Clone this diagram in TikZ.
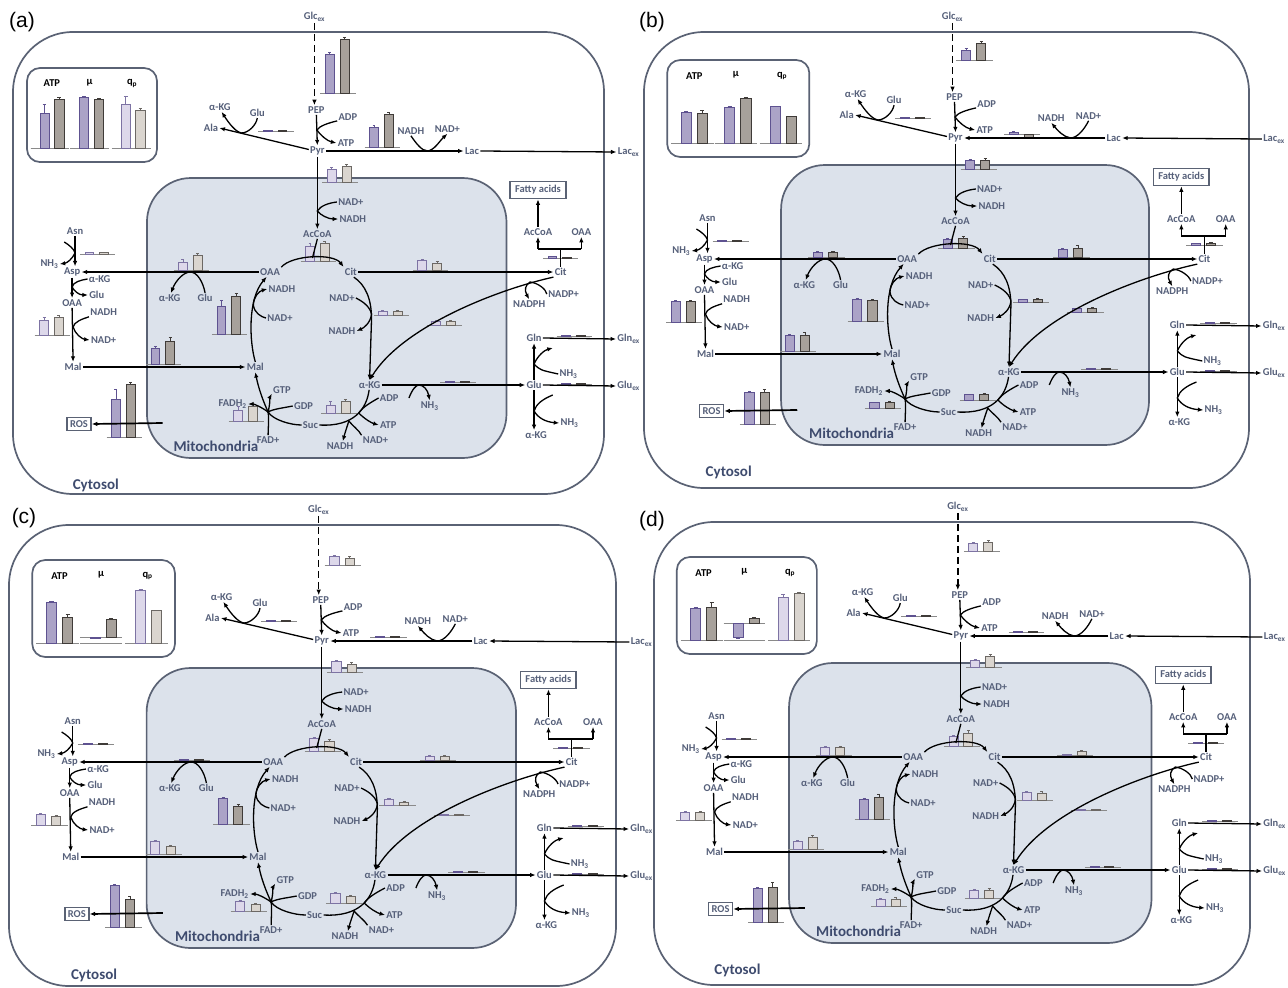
\documentclass[tikz,border=0pt]{standalone}
\usepackage{fontspec}
\setmainfont{Carlito}
\newfontfamily\arialf{Liberation Sans}
\usetikzlibrary{arrows.meta}
\definecolor{txt}{HTML}{56607A}
\definecolor{boxc}{HTML}{5A6274}
\definecolor{mitof}{HTML}{DCE2EB}
\definecolor{labc}{HTML}{3E4B6E}
\definecolor{pdF}{HTML}{ABA3C7}
\definecolor{pdD}{HTML}{5E5290}
\definecolor{gdF}{HTML}{A7A19B}
\definecolor{gdD}{HTML}{3F3B38}
\definecolor{plF}{HTML}{DDD8EA}
\definecolor{plD}{HTML}{7D73A3}
\definecolor{glF}{HTML}{DAD5CF}
\definecolor{glD}{HTML}{6C6864}
\definecolor{basec}{HTML}{8A8A8A}
\newif\ifpanelA
\tikzset{
 lbl/.style={font=\fontsize{10.5}{12}\selectfont\bfseries, text=txt, inner sep=1.2pt},
 lblk/.style={font=\fontsize{10.5}{12}\selectfont\bfseries, text=black, inner sep=1pt},
 bigl/.style={font=\fontsize{15}{17}\selectfont\bfseries, text=labc, inner sep=1pt},
 panlab/.style={font=\arialf\fontsize{21}{24}\selectfont, text=black, inner sep=0pt},
 arr/.style={draw=black, line width=1.3pt, -{Latex[length=5.5pt,width=4.5pt]}},
 ln/.style={draw=black, line width=1.3pt},
 dsh/.style={draw=black, line width=1.4pt, dash pattern=on 7pt off 4pt, -{Latex[length=5.5pt,width=4.5pt]}},
 outerbox/.style={draw=boxc, line width=1.7pt, rounded corners=60pt},
 mitobox/.style={draw=boxc, fill=mitof, line width=1.7pt, rounded corners=44pt},
 insetbox/.style={draw=boxc, line width=1.7pt, rounded corners=13pt},
 framed/.style={lbl, draw=boxc, line width=1.7pt, inner xsep=5pt, inner ysep=4pt},
 framedr/.style={lbl, draw=boxc, line width=1.7pt, inner xsep=3pt, inner ysep=3pt},
 basel/.style={draw=basec, line width=0.9pt},
 pbd/.style={fill=pdF, draw=pdD, line width=0.7pt}, gbd/.style={fill=gdF, draw=gdD, line width=0.7pt},
 pbl/.style={fill=plF, draw=plD, line width=0.7pt}, gbl/.style={fill=glF, draw=glD, line width=0.7pt},
 ped/.style={draw=pdD, line width=0.5pt}, ged/.style={draw=gdD, line width=0.5pt},
 pel/.style={draw=plD, line width=0.5pt}, gel/.style={draw=glD, line width=0.5pt},
 insT/.style={}
}
% bar pair: x, y(baseline), h1, h2, e1, e2, style (d/l)
\newcommand\BPair[7]{%
 \draw[basel] (#1,#2) -- ({#1+36},#2);
 \filldraw[pb#7] ({#1+5},#2) rectangle ({#1+14},{#2-(#3)});
 \filldraw[gb#7] ({#1+20},#2) rectangle ({#1+29},{#2-(#4)});
 \draw[pe#7] ({#1+9.5},{#2-(#3)}) -- ++(0,{-(#5)}) ++(-1.5,0) -- ++(3,0);
 \draw[ge#7] ({#1+24.5},{#2-(#4)}) -- ++(0,{-(#6)}) ++(-1.5,0) -- ++(3,0);
}
\newcommand\BarAt[6]{\edef\tmpos{\csname P#1\endcsname}\expandafter\BPair\tmpos{#2}{#3}{#4}{#5}{#6}}
% inset group: center, raise, h1, h2, e1, e2, style
\newcommand\InB[7]{%
 \draw[basel] ({#1-21},117) -- ({#1+21},117);
 \draw[basel] ({#1-21},{117-(#2)}) -- ({#1+21},{117-(#2)});
 \filldraw[pb#7] ({#1-11},{117-(#2)}) rectangle ({#1-1},{117-(#2)-(#3)});
 \filldraw[gb#7] ({#1+5},{117-(#2)}) rectangle ({#1+15},{117-(#2)-(#4)});
 \draw[pe#7] ({#1-6},{117-(#2)-(#3)}) -- ++(0,{-(#5)}) ++(-2,0) -- ++(4,0);
 \draw[ge#7] ({#1+10},{117-(#2)-(#4)}) -- ++(0,{-(#6)}) ++(-2,0) -- ++(4,0);
}
\def\Pala{{249}{94}}
\def\Plac{{357}{110}}
\def\Pmemb{{314}{145}}
\def\Pacc{{292}{224}}
\def\Pasn{{68}{217}}
\def\Poaaasp{{163}{233}}
\def\Pmaloaa{{202}{297}}
\def\Pcitcit{{406}{233}}
\def\Pcitakg{{366}{278}}
\def\Plong{{420}{288}}
\def\Pbrk{{538}{221}}
\def\Pcam{{22}{298}}
\def\Pmalmal{{135}{327}}
\def\Pfadh{{219}{384}}
\def\Psuc{{313}{376}}
\def\Pakg{{434}{345}}
\def\Pgln{{552}{299}}
\def\Pglu{{552}{347}}
\def\Pros{{95}{400}}
\newcommand\panelbg{%
 \draw[mitobox] (136,141) rectangle (501,421);
 \node[bigl] (mitol) at (206,409) {Mitochondria};
 \node[bigl] (cytol) at (84,448) {Cytosol};
 \begin{scope}[insT]
  \draw[insetbox] (23,34) rectangle (164,131);
  \node[lblk] (iatp) at (50,50) {ATP};
  \node[lblk] (imu) at (91,49) {μ};
  \node[lblk] (iqp) at (137,50) {q\textsubscript{p}};
 \end{scope}
}
\newcommand\panelfg{%
 \node[lbl] (glcex) at (306,{-15-(\pdy)}) {Glc\textsubscript{ex}};
 \node[lbl] (pep) at (308,73) {PEP};
 \node[lbl] (pyr) at (309,114) {Pyr};
 \node[lbl] (adp) at (340,80) {ADP};
 \node[lbl] (atp) at (338,106) {ATP};
 \node[lbl] (akga) at (210,70) {α-KG};
 \node[lbl] (glua) at (248,76) {Glu};
 \node[lbl] (ala) at (201,91) {Ala};
 \node[lbl] (lac) at (466,114) {Lac};
 \node[lbl] (lacex) at (625,115) {Lac\textsubscript{ex}};
 \node[lbl] (nadhl) at (404,94) {NADH};
 \node[lbl] (nadl) at (441,92) {NAD+};
 \node[lbl] (nadm) at (343,165) {NAD+};
 \node[lbl] (nadhm) at (345,182) {NADH};
 \node[lbl] (acoa) at (309,197) {AcCoA};
 \node[lbl] (oaa) at (261,235) {OAA};
 \node[lbl] (cit) at (343,235) {Cit};
 \node[lbl] (citc) at (556,235) {Cit};
 \node[framed] (fa) at (533,153) {Fatty acids};
 \node[lbl] (acoac) at (533,195) {AcCoA};
 \node[lbl] (oaac) at (577,195) {OAA};
 \node[lbl] (asn) at (63,194) {Asn};
 \node[lbl] (asp) at (60,235) {Asp};
 \node[lbl] (nh3a) at (37,227) {NH\textsubscript{3}};
 \node[lbl] (akgc2) at (88,242) {α-KG};
 \node[lbl] (gluc2) at (85,258) {Glu};
 \node[lbl] (oaa2) at (60,266) {OAA};
 \node[lbl] (nadhd) at (92,275) {NADH};
 \node[lbl] (nadd) at (92,303) {NAD+};
 \node[lbl] (malc) at (61,330) {Mal};
 \node[lbl] (malm) at (246,330) {Mal};
 \node[lbl] (akgb) at (159,261) {α-KG};
 \node[lbl] (glub) at (195,261) {Glu};
 \node[lbl] (nadhb) at (273,252) {NADH};
 \node[lbl] (nadb) at (271,281) {NAD+};
 \node[lbl] (nadc) at (334,261) {NAD+};
 \node[lbl] (nadhc) at (334,294) {NADH};
 \node[lbl] (nadph) at (524,267) {NADPH};
 \node[lbl] (nadpp) at (559,257) {NADP+};
 \node[lbl] (akgm) at (362,348) {α-KG};
 \node[lbl] (nh3b) at (423,369) {NH\textsubscript{3}};
 \node[lbl] (gluc) at (529,348) {Glu};
 \node[lbl] (gluex) at (625,349) {Glu\textsubscript{ex}};
 \node[lbl] (gln) at (529,301) {Gln};
 \node[lbl] (glnex) at (625,302) {Gln\textsubscript{ex}};
 \node[lbl] (nh3c) at (564,337) {NH\textsubscript{3}};
 \node[lbl] (nh3d) at (565,386) {NH\textsubscript{3}};
 \node[lbl] (akgc) at (531,398) {α-KG};
 \node[lbl] (adpm) at (382,361) {ADP};
 \node[lbl] (atpm) at (381,388) {ATP};
 \node[lbl] (nadm2) at (368,403) {NAD+};
 \node[lbl] (nadhm2) at (332,409) {NADH};
 \node[lbl] (suc) at (302,388) {Suc};
 \node[lbl] (gtp) at (273,353) {GTP};
 \node[lbl] (gdp) at (295,369) {GDP};
 \node[lbl] (fadh) at (223,367) {FADH\textsubscript{2}};
 \node[lbl] (fad) at (259,403) {FAD+};
 \node[framedr] (ros) at (67,387) {ROS};
 % glycolysis
 \draw[dsh] (glcex.south) -- (glcex.south |- pep.north);
 \draw[arr] (pep.south) -- (pyr.north);
 \coordinate (jadp) at (308.5,93);
 \draw[arr] (adp.200) .. controls (320,86) and (311,89) .. (jadp) .. controls (312,98) and (319,104) .. (atp.west);
 \draw[arr] (pyr.170) -- (ala.east);
 \coordinate (jala) at (232,96);
 \draw[arr] (glua.south) .. controls (247,88) and (239,96) .. (jala) .. controls (226,95) and (219,86) .. (akga.290);
 \ifpanelA
  \draw[arr] (pyr.east) -- (lac.west);
  \draw[arr] (lac.east) -- (lacex.west);
  \coordinate (jlac) at (421,114);
  \draw[arr] (nadhl.south) .. controls (409,106) and (415,114) .. (jlac) .. controls (428,113) and (433,104) .. (nadl.south);
 \else
  \draw[arr] (lacex.west) -- (lac.east);
  \draw[arr] (lac.west) -- (pyr.east);
  \coordinate (jlac) at (423,114);
  \draw[arr] (nadl.south) .. controls (437,105) and (430,114) .. (jlac) .. controls (416,113) and (410,106) .. (nadhl.south);
 \fi
 \draw[arr] (pyr.south) -- (acoa.north);
 \coordinate (jpd) at (309,174);
 \draw[arr] (nadm.west) .. controls (320,166) and (312,169) .. (jpd) .. controls (312,178) and (320,182) .. (nadhm.west);
 % TCA
 \draw[arr] (oaa.north east) .. controls (283,218) and (325,216) .. (cit.north west);
 \coordinate (jac) at (304,221);
 \draw[ln] (acoa.south) -- (jac);
 \draw[arr] (cit.east) -- (citc.west);
 \draw[arr] (oaa.west) -- (asp.east);
 \coordinate (jog) at (180,235);
 \draw[arr] (glub.north) .. controls (193,245) and (187,235) .. (jog) .. controls (173,235) and (165,244) .. (akgb.75);
 \draw[arr] (malm.north) .. controls (240,305) and (238,262) .. (oaa.235);
 \coordinate (jmo) at (244,268);
 \draw[arr] (nadb.west) .. controls (252,280) and (245,276) .. (jmo) .. controls (244,260) and (250,254) .. (nadhb.west);
 \draw[arr] (cit.300) .. controls (358,248) and (364,262) .. (364,282) -- (akgm.north);
 \coordinate (jca) at (364,277);
 \draw[arr] (nadc.east) .. controls (352,263) and (362,268) .. (jca) .. controls (363,286) and (356,291) .. (nadhc.east);
 \draw[arr] (citc.south west) .. controls (490,253) and (395,290) .. (akgm.north);
 \coordinate (jnp) at (525,245);
 \draw[arr] (nadpp.west) .. controls (541,252) and (533,246) .. (jnp) .. controls (520,248) and (519,253) .. (nadph.north);
 \coordinate (brc) at (556,212);
 \draw[ln] (citc.north) -- (brc);
 \draw[ln] (acoac.south |- brc) -- (oaac.south |- brc);
 \draw[arr] (acoac.south |- brc) -- (acoac.south);
 \draw[arr] (oaac.south |- brc) -- (oaac.south);
 \draw[arr] (acoac.north) -- (acoac.north |- fa.south);
 % cytosolic aspartate/malate
 \draw[arr] (asn.south) -- (asn.south |- asp.north);
 \coordinate (sas) at (52,205);
 \coordinate (jas) at (63,216);
 \draw[arr] (sas) .. controls (57,208) and (62,212) .. (jas) .. controls (60,222) and (55,226) .. (nh3a.east);
 \draw[arr] (asp.south) -- (oaa2.north);
 \coordinate (jag) at (60,250);
 \draw[arr] (akgc2.west) .. controls (69,243) and (61,245) .. (jag) .. controls (62,254) and (67,258) .. (gluc2.west);
 \draw[arr] (oaa2.south) -- (malc.north);
 \coordinate (jnd) at (61,290);
 \draw[arr] (nadhd.south west) .. controls (70,282) and (62,285) .. (jnd) .. controls (63,297) and (70,302) .. (nadd.west);
 \draw[arr] (malc.east) -- (malm.west);
 % aKG -> Suc -> Mal
 \draw[ln] (akgm.265) .. controls (359,372) and (346,390) .. (suc.east);
 \coordinate (jad) at (351,376);
 \draw[arr] (adpm.west) .. controls (364,365) and (355,370) .. (jad) .. controls (357,382) and (364,386) .. (atpm.west);
 \coordinate (jnn) at (341,384);
 \draw[arr] (nadm2.north west) .. controls (352,394) and (344,388) .. (jnn) .. controls (339,390) and (337,396) .. (nadhm2.60);
 \coordinate (js) at (259,375);
 \draw[arr] (suc.west) .. controls (282,388) and (264,383) .. (js) .. controls (253,362) and (249,350) .. (malm.south);
 \draw[arr] (gdp.west) .. controls (274,371) and (264,372) .. (js) .. controls (261,367) and (261,360) .. (gtp.200);
 \draw[arr] (fad.north) .. controls (259,392) and (260,382) .. (js) .. controls (252,370) and (245,367) .. (fadh.east);
 % glutamine / glutamate
 \draw[arr] (akgm.east) -- (gluc.west);
 \coordinate (snh) at (402,361);
 \coordinate (jnh) at (412,348);
 \draw[arr] (snh) .. controls (405,353) and (409,348) .. (jnh) .. controls (417,348) and (421,353) .. (nh3b.north);
 \draw[arr] (gluc.east) -- (gluex.west);
 \draw[arr] (gln.east) -- (glnex.west);
 \draw[arr] (gluc.north) -- (gln.south);
 \coordinate (jgl) at (529,327);
 \coordinate (egl) at (548,311);
 \draw[arr] (jgl) .. controls (533,318) and (540,313) .. (egl);
 \draw[ln] (jgl) .. controls (535,333) .. (nh3c.west);
 \draw[arr] (gluc.south) -- (gluc.south |- akgc.north);
 \coordinate (sgk) at (548,358);
 \coordinate (jgk) at (529,374);
 \draw[arr] (sgk) .. controls (538,362) and (531,367) .. (jgk) .. controls (533,381) and (541,385) .. (nh3d.west);
 \coordinate (sros) at (152,386);
 \draw[arr, line width=1.7pt] (sros) -- (ros.east);
}
\begin{document}
\begin{tikzpicture}[x=1pt,y=-1pt]
\useasboundingbox (0,0) rectangle (1288,988);
\fill[white] (0,0) rectangle (1288,988);
% outer cell boxes and panel letters
\draw[outerbox] (13,32) rectangle (604,494);
\draw[outerbox] (644,32) rectangle (1249,488);
\draw[outerbox] (9,525) rectangle (616,986);
\draw[outerbox] (654,522) rectangle (1250,985);
\node[panlab] (labA) at (22,22) {(a)};
\node[panlab] (labB) at (652,22) {(b)};
\node[panlab] (labC) at (24,518) {(c)};
\node[panlab] (labD) at (652,521) {(d)};
% ---------- panel (a)
\panelAtrue
\def\pdy{5}
\tikzset{insT/.style={shift={(-7.3,-2)},xscale=0.936,yscale=0.97}}
\begin{scope}[shift={(13,37)}, xscale=0.985, name prefix=a-]
 \panelbg
 \begin{scope}[insT]
  \InB{48}{0}{36}{51}{10}{2}{d}
  \InB{91}{0}{53}{51}{1}{1}{d}
  \InB{136}{0}{45}{39}{9}{3}{l}
 \end{scope}
 \BPair{312}{56}{39}{54}{2}{2}{d}
 \BarAt{ala}{0.8}{0.8}{0}{0}{d}
 \BarAt{lac}{20}{33}{2}{2}{d}
 \BarAt{memb}{13}{16}{2}{2}{l}
 \BarAt{acc}{15}{18}{3}{2}{l}
 \BarAt{asn}{1.5}{1.5}{0}{0}{l}
 \BarAt{oaaasp}{8}{15}{3}{2}{l}
 \BarAt{maloaa}{28}{38}{6}{3}{d}
 \BarAt{citcit}{10}{7}{1}{2}{l}
 \BarAt{citakg}{4}{4}{1}{1}{l}
 \BarAt{long}{4}{4}{1}{1}{l}
 \BarAt{brk}{2}{1}{0}{0}{d}
 \BarAt{cam}{15}{18}{3}{2}{l}
 \BarAt{malmal}{16}{23}{2}{4}{d}
 \BarAt{fadh}{11}{15}{4}{2}{l}
 \BarAt{suc}{8}{12}{4}{2}{l}
 \BarAt{akg}{1}{1}{0}{0}{d}
 \BarAt{gln}{0.5}{0.5}{0}{0}{d}
 \BarAt{glu}{0.5}{0.5}{0}{0}{d}
 \BarAt{ros}{38}{53}{10}{2}{d}
 \panelfg
\end{scope}
% ---------- panel (b)
\panelAfalse
\def\pdy{-8}
\tikzset{insT/.style={shift={(0,2)}}}
\begin{scope}[shift={(644,24)}, xscale=1.008, name prefix=b-]
 \panelbg
 \begin{scope}[insT]
  \InB{48}{0}{31}{30}{1}{3}{d}
  \InB{91}{0}{36}{45}{1}{1}{d}
  \InB{136}{0}{37}{27}{0}{0}{d}
 \end{scope}
 \BPair{310}{36}{10}{17}{2}{2}{d}
 \BarAt{ala}{0.5}{0.5}{0}{0}{d}
 \BarAt{lac}{2}{-3}{1}{-1}{d}
 \BarAt{memb}{9}{9}{1}{2}{d}
 \BarAt{acc}{9}{10}{1}{2}{d}
 \BarAt{asn}{1}{1}{0}{0}{d}
 \BarAt{oaaasp}{5}{5}{1}{1}{d}
 \BarAt{maloaa}{22}{21}{1}{1}{d}
 \BarAt{citcit}{8}{9}{1}{3}{d}
 \BarAt{citakg}{3}{3}{0}{1}{d}
 \BarAt{long}{4}{4}{0}{1}{d}
 \BarAt{brk}{2}{2}{0}{1}{d}
 \BarAt{cam}{21}{21}{1}{1}{d}
 \BarAt{malmal}{16}{16}{1}{3}{d}
 \BarAt{fadh}{6}{6}{0}{1}{d}
 \BarAt{suc}{6}{6}{0}{1}{d}
 \BarAt{akg}{1}{1}{0}{0}{d}
 \BarAt{gln}{0.5}{0.5}{0}{0}{d}
 \BarAt{glu}{0.5}{0.5}{0}{0}{d}
 \BarAt{ros}{32}{32}{1}{3}{d}
 \panelfg
\end{scope}
% ---------- panel (c)
\panelAfalse
\def\pdy{2}
\tikzset{insT/.style={shift={(0,-1)}}}
\begin{scope}[shift={(9,527)}, xscale=1.012, name prefix=c-]
 \panelbg
 \begin{scope}[insT]
  \InB{48}{0}{41}{26}{1}{3}{d}
  \InB{91}{6}{-1.5}{18}{0}{1}{d}
  \InB{136}{0}{53}{33}{1}{0}{l}
 \end{scope}
 \BPair{312}{38}{9}{7}{1}{2}{l}
 \BarAt{ala}{0.5}{0.5}{0}{0}{d}
 \BarAt{lac}{0.8}{0.8}{0}{0}{d}
 \BarAt{memb}{11}{8}{1}{2}{l}
 \BarAt{acc}{13}{10}{1}{2}{l}
 \BarAt{asn}{0.5}{0.5}{0}{0}{d}
 \BarAt{oaaasp}{0.5}{0.5}{0}{0}{d}
 \BarAt{maloaa}{26}{18}{1}{2}{d}
 \BarAt{citcit}{4}{4}{1}{1}{l}
 \BarAt{citakg}{6}{3}{1}{1}{l}
 \BarAt{long}{1}{1}{0}{0}{l}
 \BarAt{brk}{1}{1}{0}{0}{d}
 \BarAt{cam}{11}{9}{1}{1}{l}
 \BarAt{malmal}{13}{8}{1}{1}{l}
 \BarAt{fadh}{10}{7}{1}{1}{l}
 \BarAt{suc}{10}{7}{1}{1}{l}
 \BarAt{akg}{0.5}{0.5}{0}{0}{d}
 \BarAt{gln}{0.5}{0.5}{0}{0}{d}
 \BarAt{glu}{0.5}{0.5}{0}{0}{d}
 \BarAt{ros}{42}{28}{1}{3}{d}
 \panelfg
\end{scope}
% ---------- panel (d)
\panelAfalse
\def\pdy{0}
\tikzset{insT/.style={shift={(0,1)}}}
\begin{scope}[shift={(654,522)}, xscale=0.993, name prefix=d-]
 \panelbg
 \begin{scope}[insT]
  \InB{48}{0}{32}{33}{1}{5}{d}
  \InB{91}{17}{-14}{5}{-1}{1}{d}
  \InB{136}{0}{43}{47}{3}{1}{l}
 \end{scope}
 \BPair{312}{29}{8}{9}{1}{2}{l}
 \BarAt{ala}{0.5}{0.5}{0}{0}{d}
 \BarAt{lac}{0.8}{0.8}{0}{0}{d}
 \BarAt{memb}{7}{11}{1}{2}{l}
 \BarAt{acc}{10}{13}{1}{3}{l}
 \BarAt{asn}{0.5}{0.5}{0}{0}{d}
 \BarAt{oaaasp}{8}{8}{1}{1}{l}
 \BarAt{maloaa}{20}{22}{1}{3}{d}
 \BarAt{citcit}{1}{4}{0}{1}{l}
 \BarAt{citakg}{8}{7}{1}{2}{l}
 \BarAt{long}{1}{1}{0}{0}{l}
 \BarAt{brk}{1}{1}{0}{0}{d}
 \BarAt{cam}{8}{8}{1}{1}{l}
 \BarAt{malmal}{8}{12}{1}{2}{l}
 \BarAt{fadh}{7}{7}{1}{2}{l}
 \BarAt{suc}{8}{8}{1}{2}{l}
 \BarAt{akg}{0.5}{0.5}{0}{0}{d}
 \BarAt{gln}{0.5}{0.5}{0}{0}{d}
 \BarAt{glu}{0.5}{0.5}{0}{0}{d}
 \BarAt{ros}{34}{35}{1}{5}{d}
 \panelfg
\end{scope}
\end{tikzpicture}
\end{document}
